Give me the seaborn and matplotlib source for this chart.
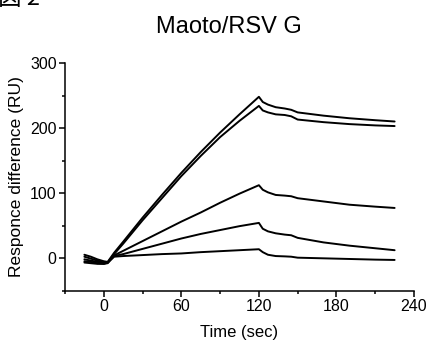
import matplotlib
matplotlib.use("Agg")
import matplotlib.pyplot as plt
import seaborn as sns
import pandas as pd
from matplotlib.ticker import MultipleLocator, FixedLocator

# ---- data ----
time = [-15, -10, -5, 0, 3, 8, 15, 30, 45, 60, 75, 90, 105, 120,
        123, 127, 133, 140, 145, 150, 170, 190, 210, 225]
curve_a = [5, 2, -2, -5, -6, 8, 25, 62, 97, 131, 163, 193, 221, 248,
           240, 236, 232, 230, 228, 224, 219, 215, 212, 210]
curve_b = [2, -1, -4, -7, -7, 6, 22, 58, 92, 126, 157, 186, 211, 234,
           227, 224, 221, 220, 218, 213, 209, 206, 204, 203]
curve_c = [-2, -4, -6, -8, -7, 4, 11, 26, 41, 56, 70, 85, 99, 112,
           105, 101, 97, 96, 95, 92, 87, 82, 79, 77]
curve_d = [-5, -6, -8, -9, -8, 3, 6, 14, 22, 30, 37, 43, 49, 54,
           45, 41, 38, 36, 35, 31, 24, 19, 15, 12]
curve_e = [-7, -8, -9, -9, -7, 2, 3, 4.5, 6, 7, 9, 10.5, 12, 13.5,
           9, 5, 3, 2.5, 2, 0.5, -0.5, -1.5, -2.5, -3]
series_names = ["A", "B", "C", "D", "E"]

title = "Maoto/RSV G"
fig_label = "図 2"
xlabel = "Time (sec)"
ylabel = "Responce difference (RU)"
x_major = [0, 60, 120, 180, 240]
x_minor = [-30, 30, 90, 150, 210]
y_major = [0, 100, 200, 300]
y_minor = [-50, 50, 150, 250]

rows = []
for name, vals in zip(series_names, [curve_a, curve_b, curve_c, curve_d, curve_e]):
    for t, v in zip(time, vals):
        rows.append({"time": t, "value": v, "series": name})
df = pd.DataFrame(rows)

sns.set_theme(style="ticks")
plt.rcParams["font.family"] = ["Liberation Sans", "DejaVu Sans"]

fig = plt.figure(figsize=(4.31, 3.5), dpi=100)
ax = fig.add_axes([65 / 431, 1 - 290.5 / 350, (414 - 65) / 431, (290.5 - 63) / 350])

sns.lineplot(data=df, x="time", y="value", units="series", estimator=None,
             color="black", linewidth=1.4, ax=ax, sort=False)

ax.set_xlim(-30, 240)
ax.set_ylim(-50, 300)
ax.xaxis.set_major_locator(FixedLocator(x_major))
ax.xaxis.set_minor_locator(FixedLocator(x_minor))
ax.yaxis.set_major_locator(FixedLocator(y_major))
ax.yaxis.set_minor_locator(FixedLocator(y_minor))
ax.tick_params(which="major", length=4, width=1.1, color="black",
               labelsize=11.5, labelcolor="black", pad=2)
ax.tick_params(which="minor", length=2.5, width=1.1, color="black")
for s in ["top", "right"]:
    ax.spines[s].set_visible(False)
for s in ["left", "bottom"]:
    ax.spines[s].set_linewidth(1.1)
    ax.spines[s].set_color("black")

ax.set_xlabel(xlabel, fontsize=12, color="black", labelpad=8)
ax.set_ylabel(ylabel, fontsize=12.5, color="black", labelpad=4)

fig.text(229 / 431, 1 - 33 / 350, title, ha="center", va="baseline",
         fontsize=17, color="black")
fig.text(-0.004, 1 - 5 / 350, fig_label, ha="left", va="baseline",
         fontsize=17, color="black", family=["Noto Sans CJK JP", "DejaVu Sans"])

fig.savefig("out.png", dpi=100)
